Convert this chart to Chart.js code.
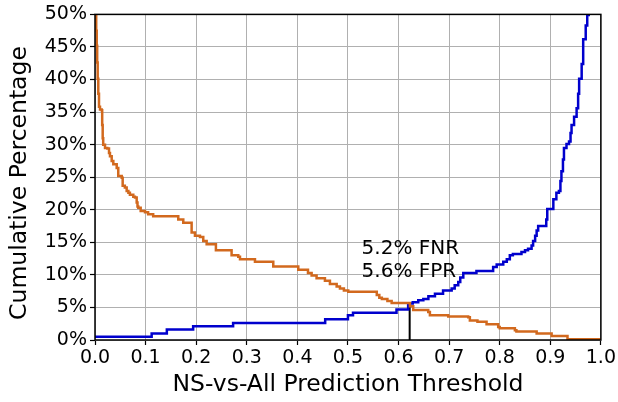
<!DOCTYPE html>
<html lang="en">
<head>
<meta charset="UTF-8">
<title>Threshold</title>
<style>
  * { margin: 0; padding: 0; }
  body { width: 618px; height: 402px; background: #fff; overflow: hidden; }
  #wrap { width: 618px; height: 402px; }
</style>
</head>
<body>
<div id="wrap"><canvas id="chart" width="618" height="402"></canvas></div>
<script src="https://cdn.jsdelivr.net/npm/chart.js@4.4.0/dist/chart.umd.min.js"></script>
<script>
// FPR (orange): threshold where the curve steps, and the value held from there on (%)
const fprX = [0, 0.0014, 0.0024, 0.0034, 0.0043, 0.0053, 0.0065, 0.0079, 0.0099, 0.0132, 0.0142, 0.0152, 0.0162,
  0.0198, 0.0243, 0.0277, 0.0296, 0.033, 0.0362, 0.0429, 0.046, 0.0528, 0.0547, 0.059, 0.0626, 0.066, 0.069,
  0.0757, 0.079, 0.0824, 0.084, 0.0856, 0.0903, 0.0988, 0.105, 0.115, 0.1646, 0.1745, 0.191, 0.1976, 0.2075,
  0.214, 0.2207, 0.239, 0.270, 0.2832, 0.2866, 0.3162, 0.3524, 0.4018, 0.421, 0.4282, 0.438, 0.4545, 0.4644,
  0.4777, 0.4842, 0.492, 0.5006, 0.557, 0.562, 0.567, 0.578, 0.5864, 0.6225, 0.629, 0.6587, 0.662, 0.6982,
  0.7377, 0.741, 0.756, 0.774, 0.797, 0.800, 0.83, 0.833, 0.873, 0.9026, 0.934, 1.0];
const fprY = [100, 50, 47.5, 45.2, 42.6, 40.1, 37.8, 35.8, 35.4, 35.3, 33.0, 31.0, 30.0,
  29.5, 29.4, 28.7, 28.2, 27.5, 27.0, 26.4, 25.2, 24.9, 23.7, 23.4, 22.9, 22.6, 22.3,
  22.0, 21.9, 21.1, 20.5, 20.3, 19.8, 19.6, 19.3, 19.0, 18.5, 18.0, 16.5, 16.0, 15.8,
  15.2, 14.7, 13.8, 13.0, 12.8, 12.4, 12.0, 11.3, 10.8, 10.3, 9.9, 9.5, 9.1, 8.6,
  8.2, 7.9, 7.6, 7.4, 6.9, 6.5, 6.3, 6.0, 5.7, 5.2, 4.6, 4.3, 3.8, 3.6,
  3.5, 3.0, 2.8, 2.4, 2.0, 1.8, 1.5, 1.3, 1.0, 0.6, 0.1, 0.1];

// FNR (blue)
const fnrX = [0, 0.112, 0.142, 0.194, 0.273, 0.455, 0.500, 0.510, 0.596, 0.619, 0.628, 0.639, 0.649, 0.659,
  0.672, 0.688, 0.705, 0.711, 0.718, 0.722, 0.728, 0.754, 0.787, 0.794, 0.807, 0.814, 0.82, 0.826, 0.843,
  0.85, 0.856, 0.863, 0.866, 0.870, 0.873, 0.876, 0.892, 0.894, 0.906, 0.912, 0.917, 0.920, 0.922, 0.925,
  0.927, 0.932, 0.937, 0.940, 0.942, 0.947, 0.952, 0.955, 0.957, 0.962, 0.965, 0.970, 0.973, 0.976];
const fnrY = [0.5, 1.0, 1.6, 2.1, 2.6, 3.2, 3.8, 4.2, 4.7, 5.6, 5.8, 6.1, 6.3, 6.7,
  7.1, 7.6, 7.9, 8.4, 8.9, 9.6, 10.3, 10.6, 11.2, 11.6, 12.0, 12.4, 13.0, 13.2, 13.5,
  13.8, 14.0, 14.5, 15.2, 16.0, 16.8, 17.5, 18.5, 20.1, 21.6, 22.6, 22.9, 24.4, 25.9, 27.7,
  29.5, 30.1, 30.5, 31.8, 33.0, 34.3, 35.6, 37.8, 40.1, 42.4, 46.2, 48.3, 49.9, 56];

// chosen operating point
const cutX = [0.622, 0.622];
const cutY = [0, 5.6];
const noteLines = ['5.2% FNR', '5.6% FPR'];

const xTicks = [0, 0.1, 0.2, 0.3, 0.4, 0.5, 0.6, 0.7, 0.8, 0.9, 1.0];
const yTicks = [0, 5, 10, 15, 20, 25, 30, 35, 40, 45, 50];
const xTitle = 'NS-vs-All Prediction Threshold';
const yTitle = 'Cumulative Percentage';

function pts(xs, ys) { return xs.map((x, i) => ({x: x, y: ys[i]})); }

const FONT = 'DejaVu Sans';

const frame = {
  id: 'frame',
  afterDatasetsDraw(chart) {
    const c = chart.ctx, a = chart.chartArea;
    const xs = chart.scales.x, ys = chart.scales.y;
    c.save();
    c.strokeStyle = '#000';
    c.lineWidth = 1.5;
    c.strokeRect(a.left, a.top, a.right - a.left, a.bottom - a.top);
    c.fillStyle = '#000';
    c.font = '20px "' + FONT + '"';
    c.textBaseline = 'alphabetic';
    c.fillText(noteLines[0], xs.getPixelForValue(0.527), ys.getPixelForValue(13.2));
    c.fillText(noteLines[1], xs.getPixelForValue(0.527), ys.getPixelForValue(9.65));
    // y axis title, matplotlib puts it a bit below the middle
    c.font = '23.5px "' + FONT + '"';
    c.textAlign = 'center';
    c.textBaseline = 'middle';
    c.translate(20, 183);
    c.rotate(-Math.PI / 2);
    c.fillText(yTitle, 0, 0);
    c.restore();
  }
};

new Chart(document.getElementById('chart'), {
  type: 'scatter',
  data: {
    datasets: [
      {data: pts(fprX, fprY), showLine: true, stepped: 'before', borderColor: '#d2691e', borderWidth: 2.5, pointRadius: 0},
      {data: pts(fnrX, fnrY), showLine: true, stepped: 'before', borderColor: '#0000cd', borderWidth: 2.5, pointRadius: 0},
      {data: pts(cutX, cutY), showLine: true, borderColor: '#000', borderWidth: 2, pointRadius: 0}
    ]
  },
  options: {
    responsive: false,
    animation: false,
    devicePixelRatio: 1,
    layout: {padding: {top: 12, right: 17, left: 0, bottom: 0}},
    plugins: {legend: {display: false}, tooltip: {enabled: false}},
    scales: {
      x: {
        type: 'linear', min: 0, max: 1,
        afterBuildTicks: s => { s.ticks = xTicks.map(v => ({value: v})); },
        afterFit: s => { s.height = 62; },
        grid: {color: '#b0b0b0', lineWidth: 1, tickLength: 5, tickColor: '#000', tickWidth: 1.2},
        border: {display: false},
        ticks: {color: '#000', font: {family: FONT, size: 19}, padding: 2, maxRotation: 0,
          callback: v => v.toFixed(1)},
        title: {display: true, text: xTitle, color: '#000',
          font: {family: FONT, size: 23.5}, padding: {top: 0, bottom: 3}}
      },
      y: {
        type: 'linear', min: 0, max: 50,
        afterBuildTicks: s => { s.ticks = yTicks.map(v => ({value: v})); },
        afterFit: s => { s.width = 95; },
        grid: {color: '#b0b0b0', lineWidth: 1, tickLength: 5, tickColor: '#000', tickWidth: 1.2},
        border: {display: false},
        ticks: {color: '#000', font: {family: FONT, size: 19}, padding: 3,
          callback: v => v + '%'},
        title: {display: false}
      }
    }
  },
  plugins: [frame]
});
</script>
</body>
</html>
